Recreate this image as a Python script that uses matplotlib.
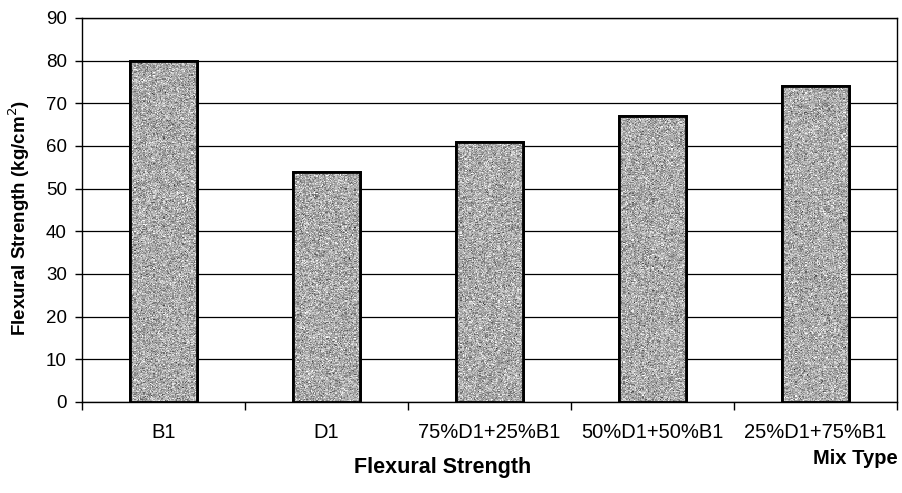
import numpy as np
import matplotlib
matplotlib.use('Agg')
import matplotlib.pyplot as plt

mixes = ['B1', 'D1', '75%D1+25%B1', '50%D1+50%B1', '25%D1+75%B1']
strength = [80, 54, 61, 67, 74]

plt.rcParams['font.family'] = ['Liberation Sans', 'DejaVu Sans']

dpi = 100
fig = plt.figure(dpi=dpi, figsize=(902 / dpi, 493 / dpi))
ax = fig.add_axes([82 / 902, 1 - 402 / 493, 815 / 902, 384 / 493])

x = np.arange(len(mixes))
bars = ax.bar(x, strength, width=0.41, color='#a8a8a8', edgecolor='black',
              linewidth=2, zorder=3)

# grainy fill, clipped to each bar
rng = np.random.default_rng(7)
for b in bars:
    tex = rng.normal(0.67, 0.13, (400, 60))
    im = ax.imshow(tex, cmap='gray', vmin=0, vmax=1, aspect='auto',
                   extent=(b.get_x(), b.get_x() + b.get_width(), 0, b.get_height()),
                   interpolation='nearest', zorder=3.5)
    im.set_clip_path(b)
    b2 = plt.Rectangle((b.get_x(), 0), b.get_width(), b.get_height(),
                       fill=False, edgecolor='black', linewidth=2, zorder=4)
    ax.add_patch(b2)

ax.set_xlim(-0.5, len(mixes) - 0.5)
ax.set_ylim(0, 90)
ax.set_yticks(range(0, 91, 10))
ax.yaxis.grid(True, color='black', linewidth=0.9, zorder=1)

# ticks sit between categories, labels centred under bars
ax.set_xticks(np.arange(-0.5, len(mixes), 1.0))
ax.set_xticklabels([])
ax.set_xticks(x, minor=True)
ax.set_xticklabels(mixes, minor=True, fontsize=14.5)
ax.tick_params(axis='x', which='minor', length=0, pad=15)
ax.tick_params(axis='x', which='major', length=6, width=1, direction='out')
ax.tick_params(axis='y', labelsize=13.5, length=5, width=1, direction='out', pad=6)

for s in ax.spines.values():
    s.set_linewidth(1)
    s.set_color('black')

ax.set_ylabel('Flexural Strength (kg/cm$^2$)', fontsize=13.5, fontweight='bold')
ax.yaxis.set_label_coords(-50 / 815, 0.48)
fig.text(443 / 902, 1 - 468 / 493, 'Flexural Strength', ha='center', va='center',
         fontsize=15.5, fontweight='bold')
fig.text(898 / 902, 1 - 459 / 493, 'Mix Type', ha='right', va='center',
         fontsize=14.5, fontweight='bold')

fig.savefig('out.png', dpi=dpi)
